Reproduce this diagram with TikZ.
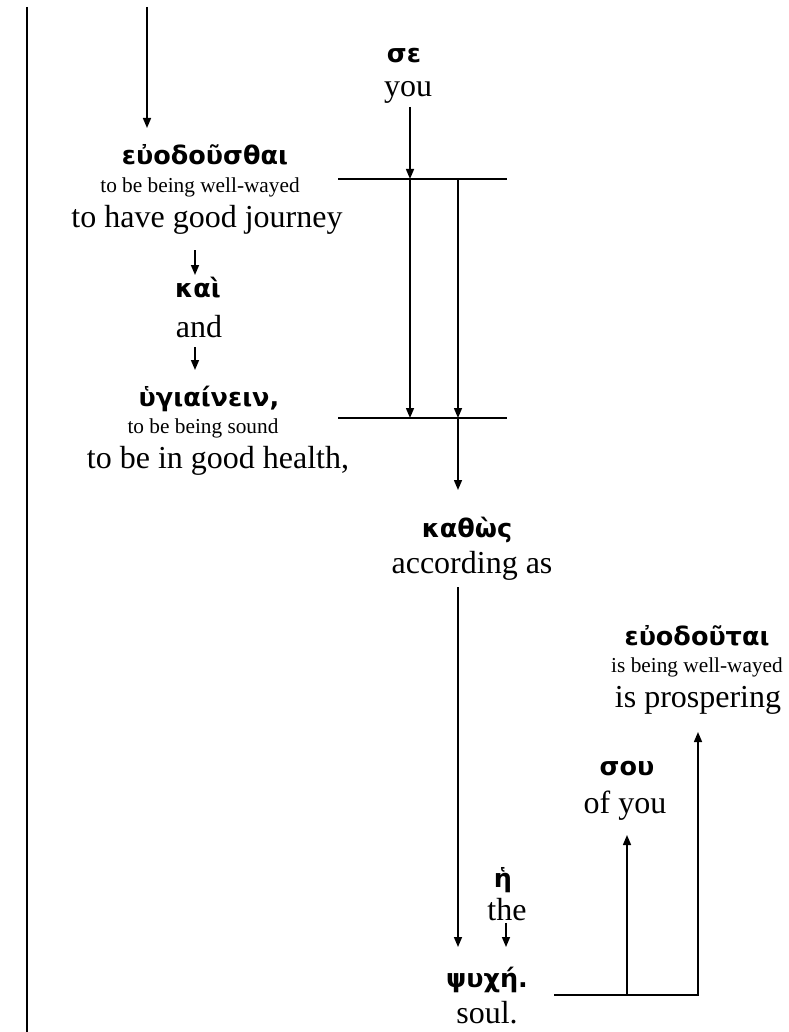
\documentclass[tikz,border=0pt]{standalone}
\usepackage{fontspec}
\setmainfont{Liberation Serif}
\newfontfamily\gk{DejaVu Sans}
\usetikzlibrary{arrows.meta}
\begin{document}
\begin{tikzpicture}[x=1pt,y=-1pt,
  ln/.style={line width=1.5pt},
  arr/.style={line width=1.5pt,-{Triangle[length=10pt,width=8pt]}},
  gr/.style={anchor=base,inner sep=0pt,font=\gk\bfseries\fontsize{25.5}{28}\selectfont},
  en/.style={anchor=base,inner sep=0pt,font=\fontsize{32}{35}\selectfont},
  sm/.style={anchor=base,inner sep=0pt,font=\fontsize{21.3}{24}\selectfont}]
\useasboundingbox (0,0) rectangle (788,1032);
% left column
\node[gr] (eu) at (205,165) {εὐοδοῦσθαι};
\node[sm] (eus) at (200,193) {to be being well-wayed};
\node[en] (eue) at (207,227) {to have good journey};
\node[gr] (kai) at (198,297) {καὶ};
\node[en] (and) at (199,337) {and};
\node[gr] (hy) at (209,406) {ὑγιαίνειν,};
\node[sm] (hys) at (203,433) {to be being sound};
\node[en] (hye) at (218,468) {to be in good health,};
% right column
\node[gr] (se) at (404,63) {σε};
\node[en] (you) at (408,97) {you};
\node[gr] (kath) at (467,537) {καθὼς};
\node[en] (kathe) at (472,573) {according as};
\node[gr] (euo) at (697,645) {εὐοδοῦται};
\node[sm] (euos) at (697,672) {is being well-wayed};
\node[en] (euoe) at (698,707) {is prospering};
\node[gr] (sou) at (627,775) {σου};
\node[en] (soue) at (625,813) {of you};
\node[gr] (he) at (503,887) {ἡ};
\node[en] (hee) at (507,920) {the};
\node[gr] (psy) at (487,987) {ψυχή.};
\node[en] (psye) at (487,1023) {soul.};
% coordinates
\coordinate (L0) at (27,7);
\coordinate (L1) at (27,1032);
\coordinate (a1s) at (147,7);
\coordinate (a1e) at (147,128);
\coordinate (a2s) at (195,250);
\coordinate (a2e) at (195,275);
\coordinate (a3s) at (195,347);
\coordinate (a3e) at (195,370);
\coordinate (a4s) at (410,107);
\coordinate (h1l) at (338,179);
\coordinate (h1r) at (507,179);
\coordinate (h1a) at (410,179);
\coordinate (h1b) at (458,179);
\coordinate (h2l) at (338,418);
\coordinate (h2r) at (507,418);
\coordinate (h2a) at (410,418);
\coordinate (h2b) at (458,418);
\coordinate (a5e) at (458,490);
\coordinate (a6s) at (458,587);
\coordinate (a6e) at (458,947);
\coordinate (a7s) at (506,923);
\coordinate (a7e) at (506,947);
\coordinate (h3l) at (554,995);
\coordinate (h3r) at (699,995);
\coordinate (h3a) at (627,995);
\coordinate (h3b) at (698,995);
\coordinate (a8e) at (627,835);
\coordinate (a9e) at (698,732);
% connectors
\draw[ln] (L0) -- (L1);
\draw[arr] (a1s) -- (a1e);
\draw[arr] (a2s) -- (a2e);
\draw[arr] (a3s) -- (a3e);
\draw[arr] (a4s) -- (h1a);
\draw[ln] (h1l) -- (h1r);
\draw[arr] (h1a) -- (h2a);
\draw[arr] (h1b) -- (h2b);
\draw[ln] (h2l) -- (h2r);
\draw[arr] (h2b) -- (a5e);
\draw[arr] (a6s) -- (a6e);
\draw[arr] (a7s) -- (a7e);
\draw[ln] (h3l) -- (h3r);
\draw[arr] (h3a) -- (a8e);
\draw[arr] (h3b) -- (a9e);
\end{tikzpicture}
\end{document}
